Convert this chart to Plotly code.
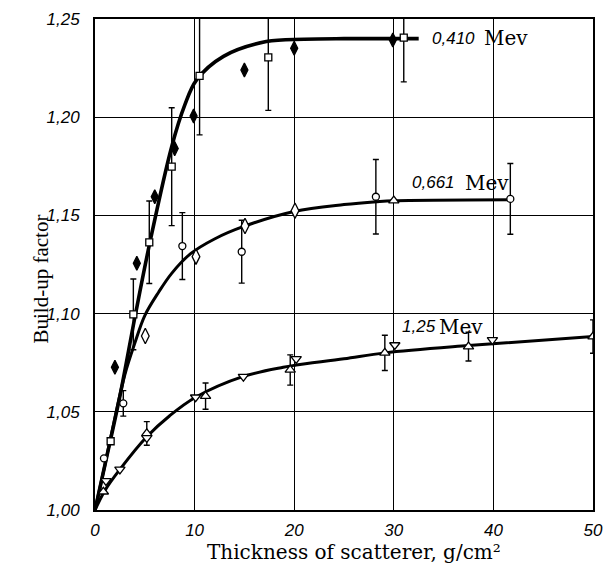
import plotly.graph_objects as go

# ── values ──────────────────────────────────────────────────────────────────
X_TICKS = [0, 10, 20, 30, 40, 50]
Y_TICKS = [1.00, 1.05, 1.10, 1.15, 1.20, 1.25]
Y_TICK_TEXT = ["1,00", "1,05", "1,10", "1,15", "1,20", "1,25"]

# 0.410 MeV
E410_CURVE_X = [0, 1.0, 2.5, 4.0, 5.5, 7.7, 9.0, 10.2, 12.9, 17.2, 21.0, 25.0, 32.5]
E410_CURVE_Y = [1.0, 1.023, 1.058, 1.098, 1.136, 1.185, 1.206, 1.219, 1.231, 1.2385, 1.2397, 1.240, 1.240]
E410_DIAM_X = [2.0, 4.2, 6.0, 8.0, 9.9, 15.0, 20.0, 29.9]
E410_DIAM_Y = [1.0727, 1.1256, 1.1595, 1.184, 1.2006, 1.224, 1.2351, 1.2393]
E410_SQ_X = [1.57, 3.85, 5.45, 7.7, 10.5, 17.4, 31.0]
E410_SQ_Y = [1.035, 1.0996, 1.1363, 1.1748, 1.221, 1.2305, 1.2405]
E410_SQ_ERR = [0, 0.018, 0.021, 0.030, 0.030, 0.027, 0.0225]

# 0.661 MeV
E661_CURVE_X = [0, 1.0, 2.0, 3.0, 4.0, 5.0, 6.4, 7.7, 9.6, 12.0, 15.0, 20.0, 25.0, 28.3, 30.0, 41.7]
E661_CURVE_Y = [1.0, 1.023, 1.047, 1.069, 1.085, 1.099, 1.111, 1.1205, 1.1305, 1.138, 1.1445, 1.152, 1.1555, 1.157, 1.1575, 1.158]
E661_CIRC_X = [0.9, 2.84, 8.77, 14.73, 28.2, 41.7]
E661_CIRC_Y = [1.0263, 1.0543, 1.1344, 1.1315, 1.1595, 1.1584]
E661_CIRC_ERR = [0, 0.0065, 0.017, 0.016, 0.019, 0.018]
E661_DIAM_X = [5.05, 10.14, 15.06, 20.08]
E661_DIAM_Y = [1.0886, 1.129, 1.1446, 1.1524]
E661_TRI_X = [30.0]
E661_TRI_Y = [1.1575]

# 1.25 MeV
E125_CURVE_X = [0, 1.0, 2.5, 5.2, 7.5, 10.1, 14.9, 18.9, 20.2, 25.0, 29.1, 37.5, 50.0]
E125_CURVE_Y = [1.0, 1.010, 1.0207, 1.0373, 1.048, 1.0574, 1.068, 1.0727, 1.0738, 1.077, 1.080, 1.0837, 1.0883]
E125_UP_X = [0.84, 5.2, 11.1, 19.6, 29.1, 37.5, 50.0]
E125_UP_Y = [1.0093, 1.039, 1.058, 1.0713, 1.080, 1.0832, 1.0883]
E125_UP_ERR = [0, 0.006, 0.0067, 0.0077, 0.009, 0.0073, 0.0085]
E125_DN_X = [1.1, 2.5, 5.2, 10.1, 14.9, 20.2, 30.1, 39.9]
E125_DN_Y = [1.0148, 1.0207, 1.0367, 1.0574, 1.0679, 1.0769, 1.084, 1.0866]

SERIF_Y = "Liberation Serif, Times New Roman, serif"
SERIF_X = "DejaVu Serif, serif"
SANS = "Liberation Sans, Arial, sans-serif"

fig = go.Figure()


def curve(x, y, width):
    fig.add_trace(go.Scatter(x=x, y=y, mode="lines", line_shape="spline",
                             line=dict(color="black", width=width),
                             hoverinfo="skip", showlegend=False))


def points(x, y, symbol, size, fill="white", err=None):
    ey = None
    if err is not None:
        ey = dict(type="data", array=err, visible=True, color="black",
                  thickness=1.4, width=3)
    fig.add_trace(go.Scatter(
        x=x, y=y, mode="markers", error_y=ey, showlegend=False,
        marker=dict(symbol=symbol, size=size, color=fill,
                    line=dict(color="black", width=1.3)),
    ))


curve(E410_CURVE_X, E410_CURVE_Y, 3.6)
curve(E661_CURVE_X, E661_CURVE_Y, 3.0)
curve(E125_CURVE_X, E125_CURVE_Y, 3.0)

points(E410_SQ_X, E410_SQ_Y, "square", 7, err=E410_SQ_ERR)
points(E410_DIAM_X, E410_DIAM_Y, "diamond-tall", 10, fill="black")
points(E661_CIRC_X, E661_CIRC_Y, "circle", 7, err=E661_CIRC_ERR)
points(E661_DIAM_X, E661_DIAM_Y, "diamond-tall", 11)
points(E661_TRI_X, E661_TRI_Y, "triangle-up", 9)
points(E125_UP_X, E125_UP_Y, "triangle-up", 9, err=E125_UP_ERR)
points(E125_DN_X, E125_DN_Y, "triangle-down", 9)

# energy labels: italic number + upright "Mev"
LABELS = [("0,410", 33.6, 38.9, 1.2403),
          ("0,661", 31.6, 36.9, 1.1665),
          ("1,25", 30.6, 34.3, 1.0932)]
for num, xn, xm, yv in LABELS:
    fig.add_annotation(x=xn, y=yv, text=num, showarrow=False,
                       xanchor="left", yanchor="middle",
                       font=dict(family=SANS, size=17, style="italic",
                                 color="black"))
    fig.add_annotation(x=xm, y=yv, text="Mev", showarrow=False,
                       xanchor="left", yanchor="middle",
                       font=dict(family=SERIF_X, size=20, color="black"))

# axis titles as annotations so their place is fixed in pixels
fig.add_annotation(xref="paper", yref="paper", x=0.5, y=0,
                   xshift=10, yshift=-42,
                   text="Thickness of scatterer, g/cm²",
                   showarrow=False, xanchor="center", yanchor="middle",
                   font=dict(family=SERIF_X, size=20, color="black"))
fig.add_annotation(xref="paper", yref="paper", x=0, y=0.5,
                   xshift=-55, yshift=-15,
                   text="Build-up factor", textangle=-90,
                   showarrow=False, xanchor="center", yanchor="middle",
                   font=dict(family=SERIF_Y, size=21, color="black"))

fig.update_xaxes(
    range=[0, 50], tickvals=X_TICKS, ticks="", ticklabelstandoff=4,
    tickfont=dict(family=SANS, size=17, style="italic", color="black"),
    showgrid=True, gridcolor="black", gridwidth=1, zeroline=False,
    showline=True, linecolor="black", linewidth=2, mirror=True,
    automargin=False,
)
fig.update_yaxes(
    range=[1.0, 1.25], tickvals=Y_TICKS, ticktext=Y_TICK_TEXT, ticks="",
    ticklabelstandoff=10,
    tickfont=dict(family=SANS, size=17, style="italic", color="black"),
    showgrid=True, gridcolor="black", gridwidth=1, zeroline=False,
    showline=True, linecolor="black", linewidth=2, mirror=True,
    automargin=False,
)
fig.update_layout(
    width=609, height=565,
    margin=dict(l=95, r=16, t=19, b=55),
    paper_bgcolor="white", plot_bgcolor="white",
    showlegend=False,
)
# page body has a default 8px margin; drop it so the figure fills the window
fig.write_html("out.html", config={"displayModeBar": False},
               post_script="document.body.style.margin='0';")
